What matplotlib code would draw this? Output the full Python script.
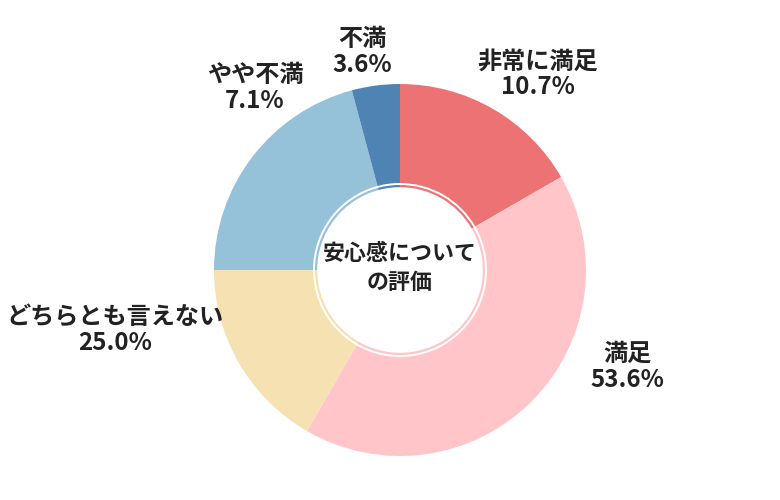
import matplotlib.pyplot as plt

plt.rcParams['font.family'] = ['Noto Sans CJK JP', 'DejaVu Sans']

# slice sizes as drawn, and the percentages written on the labels
categories = ['非常に満足', '満足', 'どちらとも言えない', 'やや不満', '不満']
values = [4, 10, 4, 5, 1]
pct_labels = ['10.7%', '53.6%', '25.0%', '7.1%', '3.6%']
center_title = '安心感について\nの評価'

colors = ['#EC7273', '#FFC5C8', '#F5E1B1', '#95C1D9', '#4F83B3']

fig = plt.figure(figsize=(7.8, 5.0), dpi=100)
ax = fig.add_axes([0, 0, 1, 1])

cx, cy = 400, 230
ax.pie(values, colors=colors, startangle=90, counterclock=False,
       radius=186, center=(cx, cy), frame=True,
       wedgeprops=dict(width=99, linewidth=0))

# thin coloured ring inside the hole
ax.pie(values, colors=colors, startangle=90, counterclock=False,
       radius=85, center=(cx, cy), frame=True,
       wedgeprops=dict(width=2.2, linewidth=0))

ax.set_xlim(0, 780)
ax.set_ylim(0, 500)
ax.set_aspect('equal')
ax.axis('off')

ax.text(cx, cy + 2, center_title, ha='center', va='center', fontsize=15.8,
        fontweight='bold', color='#222222', linespacing=1.3)

# label anchor points (pixel layout of the reference)
label_pos = [(538, 426), (627, 133), (115, 170), (255, 412), (362, 448)]
for name, pct, (x, y) in zip(categories, pct_labels, label_pos):
    ax.text(x, y, name + '\n' + pct, ha='center', va='center', fontsize=17.4,
            fontweight='bold', color='#222222', linespacing=1.08)

fig.savefig('out.png', dpi=100)
